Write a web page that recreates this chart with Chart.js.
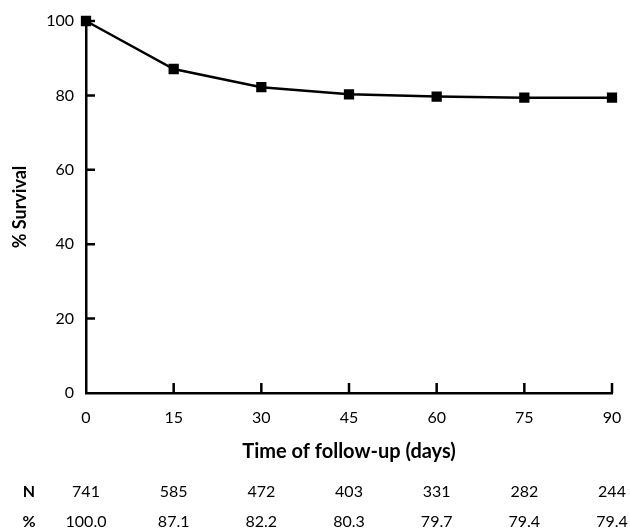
<!DOCTYPE html>
<html>
<head>
<meta charset="utf-8">
<script src="https://cdn.jsdelivr.net/npm/chart.js@4.4.1/dist/chart.umd.min.js"></script>
<style>
  html, body { margin: 0; padding: 0; background: #fff; }
  #wrap { width: 630px; height: 532px; position: relative; }
</style>
</head>
<body>
<div id="wrap"><canvas id="chartSurvival"></canvas></div>
<script>
var days = [0, 15, 30, 45, 60, 75, 90];
var survival = [100.0, 87.1, 82.2, 80.3, 79.7, 79.4, 79.4];
var atRisk = [741, 585, 472, 403, 331, 282, 244];
var survivalLabels = ['100.0', '87.1', '82.2', '80.3', '79.7', '79.4', '79.4'];
var yTicks = [0, 20, 40, 60, 80, 100];

var FONT = 'Lato, "Open Sans", sans-serif';

// inner ticks, x title and the N / % table under the axis
var extrasPlugin = {
    id: 'extras',
    afterDraw: function (chart) {
        var ctx = chart.ctx;
        var xs = chart.scales.x;
        var ys = chart.scales.y;
        var area = chart.chartArea;

        ctx.save();
        ctx.strokeStyle = '#000';
        ctx.lineWidth = 2.5;
        ctx.beginPath();
        days.forEach(function (d) {
            if (d === 0) return;
            var px = xs.getPixelForValue(d);
            ctx.moveTo(px, area.bottom);
            ctx.lineTo(px, area.bottom - 10);
        });
        yTicks.forEach(function (v) {
            if (v === 0) return;
            var py = ys.getPixelForValue(v);
            ctx.moveTo(area.left, py);
            ctx.lineTo(area.left + 9, py);
        });
        ctx.stroke();

        ctx.fillStyle = '#000';
        ctx.textAlign = 'center';
        ctx.textBaseline = 'middle';
        ctx.font = 'bold 20px ' + FONT;
        ctx.fillText('Time of follow-up (days)', (area.left + area.right) / 2, 452);

        ctx.font = 'bold 16px ' + FONT;
        ctx.fillText('N', 29, 492);
        ctx.fillText('%', 29, 522);
        ctx.font = '16px ' + FONT;
        days.forEach(function (d, i) {
            var px = xs.getPixelForValue(d);
            ctx.fillText(String(atRisk[i]), px, 492);
            ctx.fillText(survivalLabels[i], px, 522);
        });
        ctx.restore();
    }
};

var el = document.getElementById('chartSurvival');
new Chart(el, {
    type: 'line',
    data: {
        datasets: [{
            label: '% Survival',
            data: days.map(function (d, i) { return { x: d, y: survival[i] }; }),
            borderColor: '#000',
            backgroundColor: '#000',
            borderWidth: 2.5,
            pointStyle: 'rect',
            pointRadius: 5.5,
            pointHoverRadius: 5.5,
            tension: 0,
            clip: false
        }]
    },
    options: {
        responsive: true,
        maintainAspectRatio: false,
        animation: false,
        layout: { padding: { top: 21, right: 18, left: 0, bottom: 0 } },
        scales: {
            x: {
                type: 'linear',
                min: 0,
                max: 90,
                afterBuildTicks: function (s) { s.ticks = days.map(function (v) { return { value: v }; }); },
                afterFit: function (s) { s.height = 139; },
                grid: { display: false },
                border: { display: true, color: '#000', width: 2.5 },
                ticks: { color: '#000', padding: 7, font: { family: FONT, size: 16 } }
            },
            y: {
                min: 0,
                max: 100,
                afterBuildTicks: function (s) { s.ticks = yTicks.map(function (v) { return { value: v }; }); },
                afterFit: function (s) { s.width = 86; },
                grid: { display: false },
                border: { display: true, color: '#000', width: 2.5 },
                ticks: { color: '#000', padding: 4, font: { family: FONT, size: 16 } },
                title: {
                    display: true,
                    text: '% Survival',
                    color: '#000',
                    padding: { top: 9, bottom: 0 },
                    font: { family: FONT, size: 18, weight: 'bold' }
                }
            }
        },
        plugins: {
            legend: { display: false },
            tooltip: { enabled: false }
        }
    },
    plugins: [extrasPlugin]
});
</script>
</body>
</html>
